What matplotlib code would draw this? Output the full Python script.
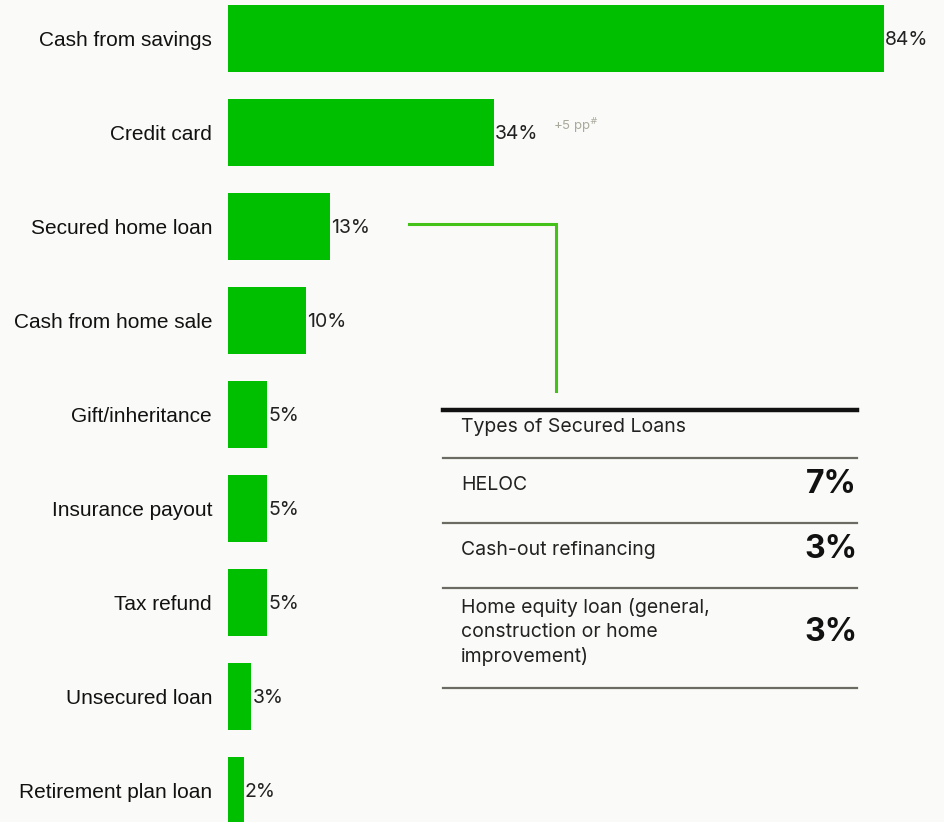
import matplotlib.pyplot as plt

categories = ['Cash from savings', 'Credit card', 'Secured home loan',
              'Cash from home sale', 'Gift/inheritance', 'Insurance payout',
              'Tax refund', 'Unsecured loan', 'Retirement plan loan']
shares = [84, 34, 13, 10, 5, 5, 5, 3, 2]

loan_types = ['HELOC', 'Cash-out refinancing',
              'Home equity loan (general,\nconstruction or home\nimprovement)']
loan_shares = [7, 3, 3]

W, H = 945, 822
BG = '#fafaf8'
GREEN = '#00bf00'
TABLE_FONT = 'Inter'

fig = plt.figure(figsize=(W / 100, H / 100), dpi=100, facecolor=BG)

# bar chart: bars start at x=228px, 7.81 px per percentage point
left = 228
ppu = 7.81
pitch = 94
first = 38.5
ax = fig.add_axes([left / W, 0, 1 - left / W, 1])
ax.set_facecolor('none')
ax.barh(range(len(shares)), shares, height=67 / pitch, color=GREEN)
ax.set_xlim(0, (W - left) / ppu)
ax.set_ylim((H - first) / pitch, -first / pitch)
for sp in ax.spines.values():
    sp.set_visible(False)
ax.set_xticks([])
ax.set_yticks(range(len(categories)))
ax.set_yticklabels(categories, fontsize=15, family='Liberation Sans', color='#111111')
ax.tick_params(axis='y', length=0, pad=11.5)
for i, v in enumerate(shares):
    ax.text(v + 0.15, i + 0.02, f'{v}%', va='center', ha='left', fontsize=14,
            family=TABLE_FONT, color='#222222')
ax.text(shares[1] + 7.6, 1 - 0.07, '+5 pp$^{\\#}$', fontsize=9.5,
        family=TABLE_FONT, color='#a9a99c', va='center', ha='left')

# overlay in pixel coordinates for the connector and the table
ov = fig.add_axes([0, 0, 1, 1])
ov.set_xlim(0, W)
ov.set_ylim(H, 0)
ov.axis('off')
ov.patch.set_alpha(0)
ov.plot([409, 556, 556], [224, 224, 391], color='#44c21a', lw=2.2,
        solid_joinstyle='miter')

tx0, tx1 = 443, 857
ov.plot([tx0, tx1], [410, 410], color='#111111', lw=3.2)
ov.text(461, 427, 'Types of Secured Loans', fontsize=14, family=TABLE_FONT,
        va='center', ha='left', color='#222222')
rules = [458, 523, 588, 688]
for y in rules:
    ov.plot([tx0, tx1], [y, y], color='#6b6b63', lw=1.6)
for k, (name, val) in enumerate(zip(loan_types, loan_shares)):
    yc = (rules[k] + rules[k + 1]) / 2 - 6
    ov.text(461, yc, name, fontsize=14, family=TABLE_FONT, va='center',
            ha='left', color='#222222', linespacing=1.4)
    ov.text(857, yc, f'{val}%', fontsize=23, family=TABLE_FONT, weight='bold',
            va='center', ha='right', color='#111111')

fig.savefig('out.png', dpi=100, facecolor=BG)
